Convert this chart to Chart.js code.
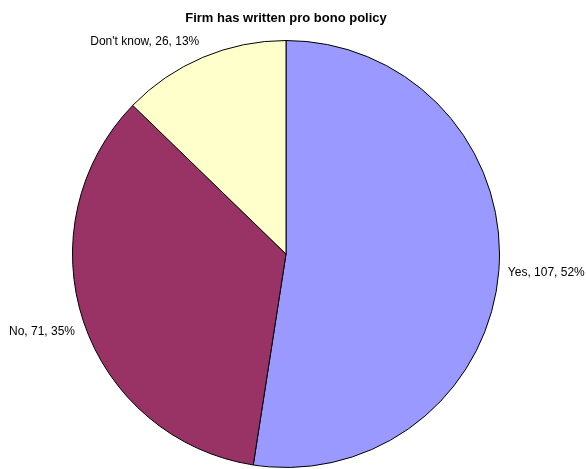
<!DOCTYPE html>
<html>
<head>
<meta charset="utf-8">
<script src="https://cdn.jsdelivr.net/npm/chart.js@4/dist/chart.umd.min.js"></script>
<style>
  html, body { margin: 0; padding: 0; background: #ffffff; }
  #wrap { width: 587px; height: 469px; position: relative; }
</style>
</head>
<body>
<div id="wrap"><canvas id="c"></canvas></div>
<script>
const title = "Firm has written pro bono policy";
const categories = ["Yes", "No", "Don't know"];
const counts = [107, 71, 26];
const percents = ["52%", "35%", "13%"];
const colors = ["#9999FF", "#993366", "#FFFFCC"];

const outsideLabels = {
  id: 'outsideLabels',
  afterDatasetsDraw(chart) {
    const ctx = chart.ctx;
    const meta = chart.getDatasetMeta(0);
    ctx.save();
    ctx.font = '12px "Liberation Sans", Arial, sans-serif';
    ctx.fillStyle = '#000000';
    ctx.textBaseline = 'middle';
    const h = 14;
    meta.data.forEach((arc, i) => {
      const p = arc.getProps(['x', 'y', 'startAngle', 'endAngle', 'outerRadius'], true);
      const mid = (p.startAngle + p.endAngle) / 2;
      const dx = Math.cos(mid), dy = Math.sin(mid);
      const rr = p.outerRadius + 9;
      const px = p.x + rr * dx;
      const py = p.y + rr * dy;
      ctx.textAlign = dx >= 0 ? 'left' : 'right';
      const k = Math.max(-1, Math.min(1, dy * 3));
      const text = categories[i] + ', ' + counts[i] + ', ' + percents[i];
      ctx.fillText(text, px, py + k * h / 2);
    });
    ctx.restore();
  }
};

new Chart(document.getElementById('c'), {
  type: 'pie',
  data: {
    labels: categories,
    datasets: [{
      data: counts,
      backgroundColor: colors,
      borderColor: '#000000',
      borderWidth: 1
    }]
  },
  options: {
    responsive: true,
    maintainAspectRatio: false,
    animation: false,
    layout: { padding: { left: 0, right: 15, top: 0, bottom: 1 } },
    plugins: {
      legend: { display: false },
      tooltip: { enabled: false },
      title: {
        display: true,
        text: title,
        color: '#000000',
        font: { family: '"Liberation Sans", Arial, sans-serif', size: 13, weight: 'bold' },
        padding: { top: 10.2, bottom: 14.2 }
      }
    }
  },
  plugins: [outsideLabels]
});
</script>
</body>
</html>
